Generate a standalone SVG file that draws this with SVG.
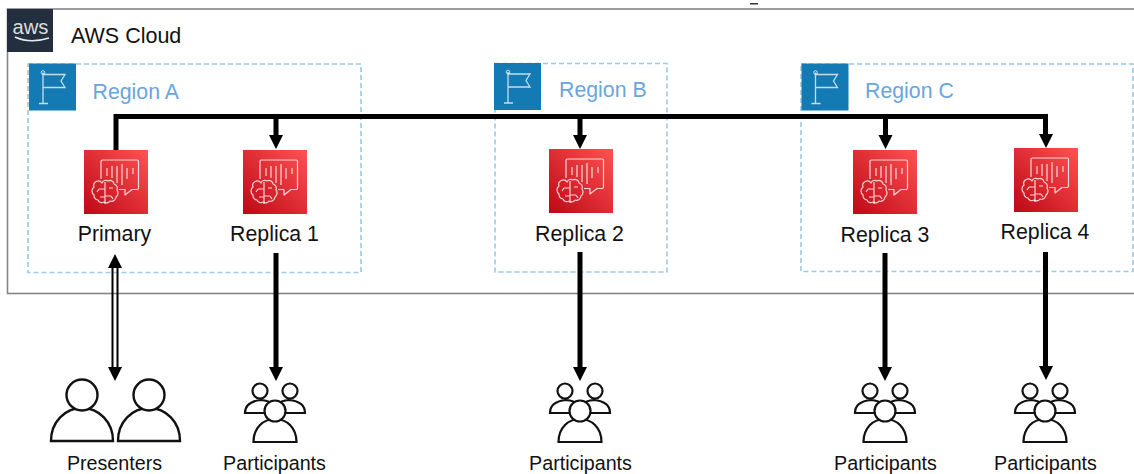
<svg xmlns="http://www.w3.org/2000/svg" width="1134" height="474" viewBox="0 0 1134 474">
<style>
text{font-family:"Liberation Sans",Arial,sans-serif;fill:#111}
.lbl{font-size:21.300px;text-anchor:middle}
.sm{font-size:19.700px;text-anchor:middle}
.reg{font-size:21.300px;fill:#6aa5db}
.region{fill:none;stroke:#9cc9e6;stroke-width:1.600;stroke-dasharray:5 3}
.conn{fill:none;stroke:#000;stroke-width:5}
.thin{fill:none;stroke:#000;stroke-width:2}
.ic{fill:none;stroke:#fff;stroke-opacity:.8;stroke-width:1.200;stroke-linejoin:round}
.pp{fill:#fff;stroke:#111;stroke-width:2.200}
</style>
<defs>
<linearGradient id="red" x1="0" y1="1" x2="1" y2="0"><stop offset="0" stop-color="#bd0816"/><stop offset="1" stop-color="#ff5252"/></linearGradient>
<g id="lex">
<rect width="64" height="64" fill="url(#red)"/>
<path class="ic" d="M17 29V11.500a1.500 1.500 0 0 1 1.500-1.500H53a1.500 1.500 0 0 1 1.500 1.500V38a1.500 1.500 0 0 1-1.500 1.500H48L41 45V39.500H35"/>
<path class="ic" d="M23 18v8M28 16v12M33 16v17M38 14v21M43 18v11M49 18v6"/>
<path class="ic" d="M18 33a4 4 0 0 1 6-2 4 4 0 0 1 6 3 4.500 4.500 0 0 1 3 6 5 5 0 0 1-1 7 4.500 4.500 0 0 1-6 4 4 4 0 0 1-6 1 4 4 0 0 1-6-2 4.500 4.500 0 0 1-4-5 5 5 0 0 1 0-8 4.500 4.500 0 0 1 8-4Z"/>
<path class="ic" d="M21 32v22M21 39h-6M15 39l-2 3M21 46h6M27 46l2 3M25 38h4M16 47h5"/>
</g>
<g id="flag">
<rect width="47" height="47" fill="#147ab4"/>
<path fill="none" stroke="#fff" stroke-opacity=".75" stroke-width="1.300" d="M14 9V40M10 40H19M14 11H36L32 17.500 36 24H14"/>
<circle cx="14" cy="9" r="1.800" fill="none" stroke="#fff" stroke-opacity=".75"/>
</g>
<g id="ppl">
<path class="pp" d="M-30 -29C-30 -37-24-41-14-42-4-41 2-37 2-29ZM-2 -29C-2 -37 4-41 14-42 24-41 30-37 30-29Z" transform="translate(0 0)"/>
<circle cx="-15" cy="-51" r="7.500" class="pp"/><circle cx="15" cy="-51" r="7.500" class="pp"/>
<path class="pp" d="M-21.500 0C-21.500 -14-12-23 0-23 12-23 21.500 -14 21.500 0Z"/>
<circle cx="0" cy="-31" r="10.500" class="pp"/>
</g>
<g id="person">
<path fill="#fff" stroke="#111" stroke-width="2.400" d="M-31 0C-31 -19-17-33 0-33 17-33 31 -19 31 0Z"/>
<circle cx="0" cy="-46" r="15.500" fill="#fff" stroke="#111" stroke-width="2.400"/>
</g>
</defs>
<rect width="1134" height="474" fill="#fff"/>
<rect id="cloud-frame" x="7.500" y="9" width="1140" height="284.500" fill="none" stroke="#858585" stroke-width="1.600"/>
<rect x="750" y="3" width="8" height="1.500" fill="#333"/>
<g id="aws-cloud">
<rect x="7" y="9" width="46" height="43" fill="#232f3e"/>
<text x="30.500" y="34" font-size="20" textLength="36" lengthAdjust="spacingAndGlyphs" style="fill:#fff;text-anchor:middle;fill-opacity:.85">aws</text>
<path d="M15 37Q30 44 49 38" fill="none" stroke="#fff" stroke-width="1.500" stroke-opacity=".9"/>
<text x="71" y="43" font-size="21.500">AWS Cloud</text>
</g>
<g id="region-a"><rect class="region" x="28" y="64" width="333" height="208.500"/><use href="#flag" x="29" y="63.500"/><text class="reg" x="92.500" y="98.500">Region A</text></g>
<g id="region-b"><rect class="region" x="495" y="63.500" width="172" height="208.500"/><use href="#flag" x="494" y="63"/><text class="reg" x="559" y="97">Region B</text></g>
<g id="region-c"><rect class="region" x="801" y="64" width="332" height="207.500"/><use href="#flag" x="801.500" y="63.500"/><text class="reg" x="865" y="98">Region C</text></g>
<g id="connectors">
<path class="conn" d="M116 150V116.500H1045.500V135"/>
<path class="conn" d="M276 117V136M580 117V136M885.500 117V136"/>
<path class="conn" d="M276 253V367M580 252V367M885 253V367M1045.500 252V367"/>
<path d="M269 135H283L276 149ZM573 135H587L580 149ZM878.500 135H892.500L885.500 149ZM1039 134H1053L1046 148ZM269 367H283L276 381ZM573 367H587L580 381ZM878 367H892L885 381ZM1039 366H1053L1046 380Z"/>
<path class="thin" d="M112.500 266V368M117.500 266V368"/>
<path d="M108 268L115 254 122 268ZM108 367L115 381 122 367Z"/>
</g>
<g id="primary"><use href="#lex" x="84" y="150"/><text class="lbl" x="114.500" y="241">Primary</text></g>
<g id="replica-1"><use href="#lex" x="243" y="150"/><text class="lbl" x="274.500" y="241">Replica 1</text></g>
<g id="replica-2"><use href="#lex" x="549" y="149"/><text class="lbl" x="579.500" y="241">Replica 2</text></g>
<g id="replica-3"><use href="#lex" x="853" y="150"/><text class="lbl" x="885" y="242">Replica 3</text></g>
<g id="replica-4"><use href="#lex" x="1014" y="148"/><text class="lbl" x="1045" y="239">Replica 4</text></g>
<g id="presenters"><use href="#person" x="82" y="441"/><use href="#person" x="149" y="441"/><text class="sm" x="114.500" y="470">Presenters</text></g>
<g id="participants-1"><use href="#ppl" x="275" y="442"/><text class="sm" x="274.500" y="470">Participants</text></g>
<g id="participants-2"><use href="#ppl" x="580" y="442"/><text class="sm" x="580.500" y="470">Participants</text></g>
<g id="participants-3"><use href="#ppl" x="885" y="442"/><text class="sm" x="885.500" y="470">Participants</text></g>
<g id="participants-4"><use href="#ppl" x="1045" y="442"/><text class="sm" x="1045.500" y="470">Participants</text></g>
</svg>
